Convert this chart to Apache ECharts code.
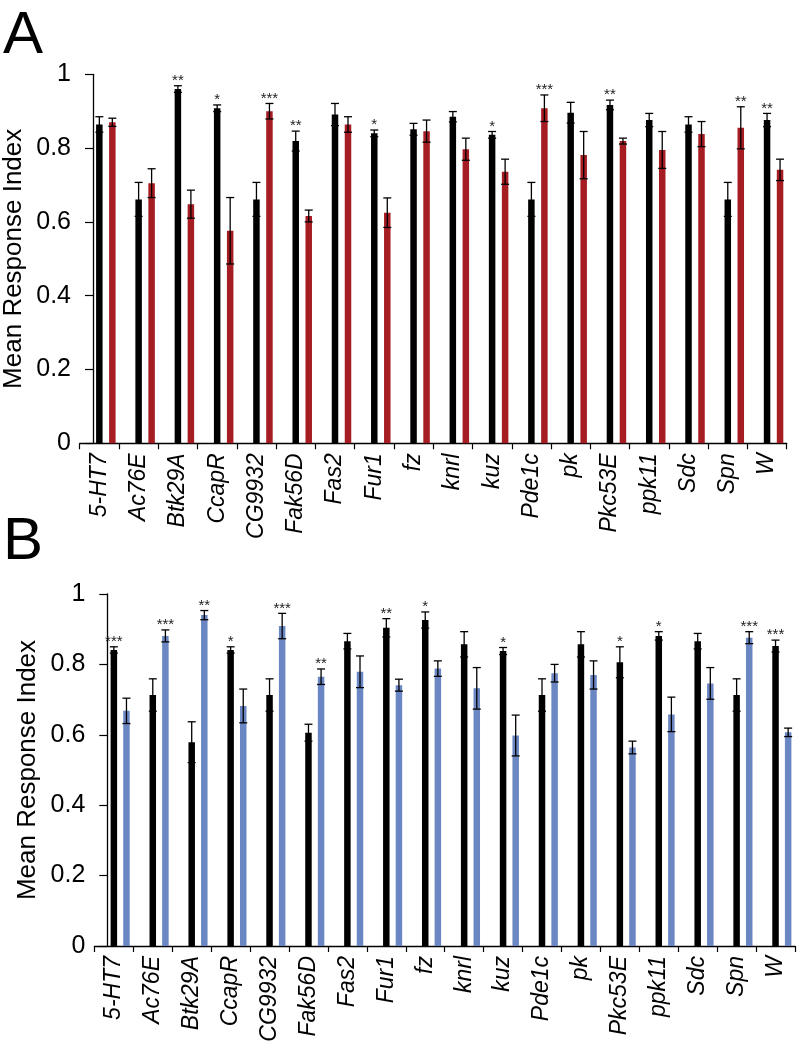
<!DOCTYPE html>
<html>
<head>
<meta charset="utf-8">
<title>Mean Response Index</title>
<script src="https://cdn.jsdelivr.net/npm/echarts@6/dist/echarts.min.js"></script>
<style>
    html, body { margin: 0; padding: 0; background: #fff; }
    #chart { width: 803px; height: 1050px; }
</style>
</head>
<body>
<div id="chart"></div>
<script>
var genes = ['5-HT7', 'Ac76E', 'Btk29A', 'CcapR', 'CG9932', 'Fak56D', 'Fas2', 'Fur1', 'fz',
    'knrl', 'kuz', 'Pde1c', 'pk', 'Pkc53E', 'ppk11', 'Sdc', 'Spn', 'W'];

var yTicks = [0, 0.2, 0.4, 0.6, 0.8, 1];

// panel A
var aBlack = [0.864, 0.661, 0.960, 0.908, 0.661, 0.819, 0.891, 0.840, 0.851,
    0.885, 0.836, 0.661, 0.896, 0.917, 0.876, 0.864, 0.661, 0.876];
var aBlackErr = [0.021, 0.046, 0.009, 0.009, 0.046, 0.027, 0.030, 0.009, 0.016,
    0.014, 0.009, 0.046, 0.028, 0.013, 0.018, 0.021, 0.046, 0.018];
var aRed = [0.870, 0.705, 0.648, 0.576, 0.900, 0.616, 0.864, 0.625, 0.846,
    0.797, 0.736, 0.908, 0.781, 0.819, 0.795, 0.838, 0.855, 0.741];
var aRedErr = [0.011, 0.039, 0.038, 0.090, 0.021, 0.016, 0.021, 0.040, 0.030,
    0.030, 0.034, 0.036, 0.064, 0.008, 0.050, 0.034, 0.057, 0.029];
var aBlackStars = ['', '', '**', '*', '', '**', '', '*', '', '', '*', '', '', '**', '', '', '', '**'];
var aRedStars = ['', '', '', '', '***', '', '', '', '', '', '', '***', '', '', '', '', '**', ''];

// panel B
var bBlack = [0.841, 0.713, 0.579, 0.841, 0.713, 0.606, 0.866, 0.904, 0.926,
    0.857, 0.838, 0.713, 0.857, 0.806, 0.881, 0.866, 0.713, 0.852];
var bBlackErr = [0.009, 0.046, 0.058, 0.009, 0.046, 0.024, 0.022, 0.026, 0.023,
    0.036, 0.010, 0.046, 0.036, 0.044, 0.012, 0.022, 0.046, 0.017];
var bBlue = [0.668, 0.881, 0.940, 0.682, 0.909, 0.765, 0.779, 0.741, 0.788,
    0.732, 0.598, 0.775, 0.770, 0.564, 0.658, 0.746, 0.876, 0.607];
var bBlueErr = [0.036, 0.017, 0.013, 0.048, 0.036, 0.022, 0.045, 0.017, 0.022,
    0.059, 0.058, 0.025, 0.040, 0.018, 0.049, 0.045, 0.017, 0.012];
var bBlackStars = ['***', '', '', '*', '', '', '', '**', '*', '', '*', '', '', '*', '*', '', '', '***'];
var bBlueStars = ['', '***', '**', '', '***', '**', '', '', '', '', '', '', '', '', '', '', '***', ''];

var FONT = 'Liberation Sans, Arial, sans-serif';
var BAR_W = 6.5;

function xAxisFor(gi) {
    return {
        type: 'category', gridIndex: gi, data: genes,
        axisLine: { lineStyle: { color: '#000', width: 1.3 } },
        axisTick: { show: true, length: 6, interval: 0, lineStyle: { color: '#000', width: 1.2 } },
        axisLabel: {
            interval: 0, rotate: 90, margin: 10, hideOverlap: false,
            fontFamily: FONT, fontSize: 23, fontStyle: 'italic', color: '#000',
            padding: [27, 0, 0, 0]   // 标签右移，对准彩色柱
        },
        splitLine: { show: false }
    };
}

function yAxisFor(gi, off) {
    return {
        type: 'value', gridIndex: gi, min: 0, max: 1, interval: 0.2, offset: off,
        name: 'Mean Response Index', nameLocation: 'middle', nameGap: 66, nameMoveOverlap: false,
        nameTextStyle: { fontFamily: FONT, fontSize: 26, color: '#000' },
        axisLine: { show: true, lineStyle: { color: '#000', width: 1.3 } },
        axisTick: { show: true, length: 8, lineStyle: { color: '#000', width: 1.2 } },
        axisLabel: {
            margin: 22, fontFamily: FONT, fontSize: 25, color: '#000',
            formatter: function(v) { return yTicks.indexOf(v) >= 0 ? String(v) : ''; }
        },
        splitLine: { show: false }
    };
}

function bars(gi, values, color, gap) {
    return {
        type: 'bar', xAxisIndex: gi, yAxisIndex: gi,
        data: values, barWidth: BAR_W, barGap: gap,
        itemStyle: { color: color },
        silent: true
    };
}

// 空的占位系列：让黑色柱子落在类目中心
function spacer(gi, gap) {
    return {
        type: 'bar', xAxisIndex: gi, yAxisIndex: gi,
        data: genes.map(function() { return 0; }), barWidth: BAR_W, barGap: gap,
        itemStyle: { color: 'rgba(0,0,0,0)' }, silent: true
    };
}

function errorBars(gi, means, errs, stars, dx) {
    return {
        type: 'custom', xAxisIndex: gi, yAxisIndex: gi, z: 10, silent: true,
        data: means.map(function(m, i) { return [i, m, errs[i]]; }),
        renderItem: function(params, api) {
            var i = api.value(0), m = api.value(1), e = api.value(2);
            var hi = api.coord([i, m + e]);
            var lo = api.coord([i, m - e]);
            var x = hi[0] + dx, cw = 4;
            var ls = { stroke: '#000', lineWidth: 1.3 };
            var children = [
                { type: 'line', shape: { x1: x, y1: hi[1], x2: x, y2: lo[1] }, style: ls },
                { type: 'line', shape: { x1: x - cw, y1: hi[1], x2: x + cw, y2: hi[1] }, style: ls },
                { type: 'line', shape: { x1: x - cw, y1: lo[1], x2: x + cw, y2: lo[1] }, style: ls }
            ];
            if (stars[i]) {
                children.push({
                    type: 'text', x: x, y: hi[1] - 5,
                    style: { text: stars[i], align: 'center', verticalAlign: 'middle',
                        font: '15px ' + FONT, fill: '#222' }
                });
            }
            return { type: 'group', children: children };
        }
    };
}

var chart = echarts.init(document.getElementById('chart'), null, { renderer: 'canvas' });
chart.setOption({
    backgroundColor: '#fff',
    animation: false,
    grid: [
        { left: 79.7, top: 74.3, width: 707, height: 369, containLabel: false, outerBoundsMode: 'none' },
        { left: 94.4, top: 594, width: 700.6, height: 352, containLabel: false, outerBoundsMode: 'none' }
    ],
    xAxis: [xAxisFor(0), xAxisFor(1)],
    yAxis: [yAxisFor(0, -13.3), yAxisFor(1, -12.9)],
    graphic: [
        { type: 'text', left: 3, top: 6, style: { text: 'A', font: '60px ' + FONT, fill: '#000' } },
        { type: 'text', left: 3, top: 512, style: { text: 'B', font: '60px ' + FONT, fill: '#000' } }
    ],
    series: [
        spacer(0, '100%'),
        bars(0, aBlack, '#000', '100%'),
        bars(0, aRed, '#A51D22', '100%'),
        errorBars(0, aBlack, aBlackErr, aBlackStars, 0),
        errorBars(0, aRed, aRedErr, aRedStars, BAR_W * 2),
        spacer(1, '94%'),
        bars(1, bBlack, '#000', '94%'),
        bars(1, bBlue, '#6A86C3', '94%'),
        errorBars(1, bBlack, bBlackErr, bBlackStars, 0),
        errorBars(1, bBlue, bBlueErr, bBlueStars, BAR_W * 1.94)
    ]
});
</script>
</body>
</html>
